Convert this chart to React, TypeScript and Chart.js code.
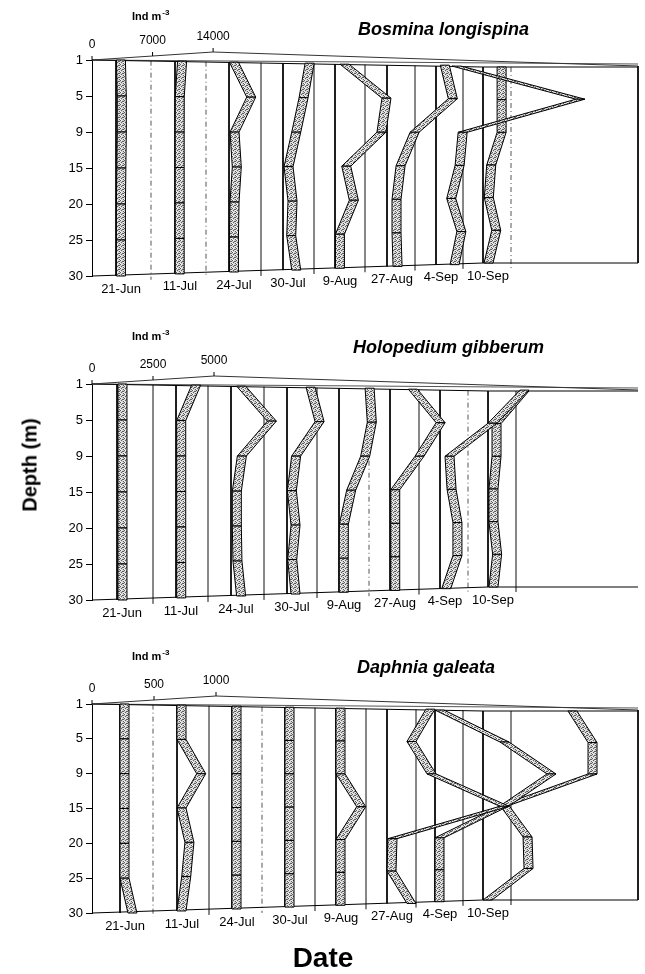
import React, { useEffect, useRef } from 'react';
import { Chart, registerables } from 'chart.js';

Chart.register(...registerables);

// ---------- data ----------
const DEPTHS = ['1', '5', '9', '15', '20', '25', '30'];
const DATES = ['21-Jun', '11-Jul', '24-Jul', '30-Jul', '9-Aug', '27-Aug', '4-Sep', '10-Sep'];

// Bosmina longispina (ind m^-3); one row per date, columns follow DEPTHS
const BOSMINA: number[][] = [
  [50, 150, 150, 100, 50, 50, 50],
  [300, 30, 20, 20, 20, 20, 20],
  [50, 2050, 120, 380, 120, 50, 50],
  [2560, 1860, 1010, 120, 580, 430, 1010],
  [580, 5430, 4850, 780, 1660, 50, 50],
  [6160, 7090, 2670, 1050, 580, 580, 700],
  [1860, 16170, 2560, 2210, 1240, 2410, 1630],
  [1630, 1630, 1630, 430, 150, 1010, 120],
];

// Holopedium gibberum (ind m^-3)
const HOLOPEDIUM: number[][] = [
  [40, 40, 40, 40, 40, 40, 40],
  [640, 30, 30, 30, 30, 30, 30],
  [230, 1490, 260, 55, 55, 80, 230],
  [780, 1150, 190, 15, 165, 30, 165],
  [1070, 1160, 890, 315, 15, 10, 10],
  [750, 1890, 1025, 30, 30, 30, 30],
  [3280, 1970, 205, 290, 530, 530, 70],
  [1310, 165, 165, 40, 40, 190, 40],
];

// Daphnia galeata (ind m^-3)
const DAPHNIA: number[][] = [
  [0, 0, 0, 0, 0, 0, 64],
  [0, 0, 159, 0, 64, 38, 0],
  [0, 0, 0, 0, 0, 0, 0],
  [0, 0, 0, 0, 0, 0, 0],
  [0, 0, 0, 167, 0, 0, 0],
  [314, 161, 323, 911, 8, 0, 161],
  [0, 524, 903, 524, 0, 0, 0],
  [685, 847, 847, 137, 323, 331, 0],
];

const BOSMINA_TICKS = [0, 7000, 14000];
const HOLOPEDIUM_TICKS = [0, 2500, 5000];
const DAPHNIA_TICKS = [0, 500, 1000];

// ---------- layout ----------
const FONT = "'Liberation Sans', Arial, Helvetica, sans-serif";
const W = 645;
const AXIS_X = 92;
const RIGHT_X = 638;
const RIBBON_W = 9;

type Panel = {
  title: string;
  values: number[][];
  ticks: number[];
  pxPerUnit: number;
  canvasTop: number;
  canvasH: number;
  top: number;
  bottom: number;
  baselines: number[];
  thin: number[];
  dashed: number[];
  titleX: number;
  titleDy: number;
  indDy: number;
  rightEdge: boolean;
};

const PANELS: Panel[] = [
  {
    title: 'Bosmina longispina', values: BOSMINA, ticks: BOSMINA_TICKS, pxPerUnit: 8.65 / 1000,
    canvasTop: 0, canvasH: 310, top: 60, bottom: 276,
    baselines: [116, 175, 229, 283, 335, 387, 436, 483],
    thin: [151, 206, 261, 314, 365, 415, 463, 511], dashed: [0, 1, 7],
    titleX: 358, titleDy: -30, indDy: -43, rightEdge: true,
  },
  {
    title: 'Holopedium gibberum', values: HOLOPEDIUM, ticks: HOLOPEDIUM_TICKS, pxPerUnit: 24.4 / 1000,
    canvasTop: 310, canvasH: 320, top: 384, bottom: 600,
    baselines: [117, 176, 231, 287, 339, 390, 440, 488],
    thin: [153, 208, 264, 317, 369, 419, 468, 516], dashed: [4, 6],
    titleX: 353, titleDy: -36, indDy: -47, rightEdge: false,
  },
  {
    title: 'Daphnia galeata', values: DAPHNIA, ticks: DAPHNIA_TICKS, pxPerUnit: 124 / 1000,
    canvasTop: 630, canvasH: 344, top: 704, bottom: 913,
    baselines: [120, 177, 232, 285, 336, 387, 435, 483],
    thin: [153, 209, 262, 315, 366, 416, 463, 511], dashed: [0, 2],
    titleX: 357, titleDy: -36, indDy: -47, rightEdge: true,
  },
];

function makeStipple(ctx: CanvasRenderingContext2D): CanvasPattern | string {
  const c = document.createElement('canvas');
  c.width = 4;
  c.height = 4;
  const g = c.getContext('2d');
  if (!g) return '#bbbbbb';
  g.fillStyle = '#d4d4d4';
  g.fillRect(0, 0, 4, 4);
  g.fillStyle = '#5c5c5c';
  g.fillRect(0, 0, 1, 1);
  g.fillRect(2, 1, 1, 1);
  g.fillRect(1, 2, 1, 1);
  g.fillRect(3, 3, 1, 1);
  g.fillRect(3, 1, 1, 1);
  g.fillStyle = '#f4f4f4';
  g.fillRect(1, 0, 1, 1);
  g.fillRect(3, 2, 1, 1);
  g.fillRect(0, 3, 1, 1);
  return ctx.createPattern(c, 'repeat') || '#bbbbbb';
}

function buildChart(canvas: HTMLCanvasElement, p: Panel, pi: number): Chart {
  const T = p.top - p.canvasTop;
  const B = p.bottom - p.canvasTop;
  const sp = (B - T) / 6;
  const n = p.baselines.length;
  const b0 = p.baselines[0];
  const b7 = p.baselines[n - 1];
  const f = (x: number) => Math.min(1, Math.max(0, (x - b0) / (b7 - b0)));
  const topAt = (x: number) => T + 7 * f(x);
  const botAt = (x: number) => B - 13 * f(x);
  const toIdx = (ypx: number) => (ypx - T) / sp;
  const toX = (xpx: number) => xpx - AXIS_X;
  const apexX = AXIS_X + p.ticks[p.ticks.length - 1] * p.pxPerUnit;
  const roofY = (x: number) => T - 8 * (x - AXIS_X) / (apexX - AXIS_X);

  const datasets: any[] = [];
  // ribbon datasets (drawn by plugin from the library's point positions)
  p.values.forEach((row, i) => {
    const bx = p.baselines[i];
    const t = topAt(bx);
    const b = botAt(bx);
    datasets.push({
      label: DATES[i],
      data: row.map((v, k) => ({ x: toX(bx) + v * p.pxPerUnit, y: toIdx(t + (k * (b - t)) / 6) })),
      showLine: false,
      pointRadius: 0,
      borderWidth: 0,
      order: i + 1,
      clip: false,
    });
  });
  const line = (pts: [number, number][], color: string, width: number, order: number, dash: number[] = []) => ({
    label: '',
    data: pts.map(([x, y]) => ({ x: toX(x), y: toIdx(y) })),
    showLine: true,
    borderColor: color,
    borderWidth: width,
    borderDash: dash,
    pointRadius: 0,
    fill: false,
    tension: 0,
    order,
    clip: false,
  });
  // date walls
  p.baselines.forEach((bx) => {
    datasets.push(line([[bx, topAt(bx)], [bx, botAt(bx)]], '#000', 1, 100));
  });
  p.thin.forEach((tx, i) => {
    const dash = p.dashed.includes(i) ? [5, 3, 1, 3] : [];
    datasets.push(line([[tx, topAt(tx)], [tx, botAt(tx) + 5]], dash.length ? '#555' : '#777', 1, 100, dash));
  });
  // roof and floor
  datasets.push(line([[AXIS_X, T], [apexX, T - 8], [RIGHT_X, T + 6]], '#333', 1, 90));
  datasets.push(line([[AXIS_X, T], [b7, T + 7], [RIGHT_X, T + 7]], '#000', 1, 90));
  datasets.push(line([[AXIS_X, T], [RIGHT_X, T + 4]], '#555', 1, 90));
  datasets.push(line([[AXIS_X, B], [b7, B - 13], [RIGHT_X, B - 13]], '#000', 1, 90));
  if (p.rightEdge) {
    datasets.push(line([[RIGHT_X, T + 6], [RIGHT_X, B - 13]], '#000', 1, 90));
  }

  const ctx0 = canvas.getContext('2d') as CanvasRenderingContext2D;
  const stipple = makeStipple(ctx0);
  const nRibbons = p.values.length;

  const ribbonPlugin = {
    id: 'ribbons' + pi,
    afterDatasetDraw(chart: any, args: any) {
      if (args.index >= nRibbons) return;
      const pts = args.meta.data;
      const ctx: CanvasRenderingContext2D = chart.ctx;
      ctx.save();
      ctx.fillStyle = stipple as any;
      ctx.strokeStyle = '#000';
      ctx.lineWidth = 1;
      ctx.lineJoin = 'miter';
      for (let j = 0; j < pts.length - 1; j++) {
        const a = pts[j];
        const b = pts[j + 1];
        ctx.beginPath();
        ctx.moveTo(a.x, a.y);
        ctx.lineTo(a.x + RIBBON_W, a.y);
        ctx.lineTo(b.x + RIBBON_W, b.y);
        ctx.lineTo(b.x, b.y);
        ctx.closePath();
        ctx.fill();
        ctx.stroke();
      }
      ctx.restore();
    },
  };

  const textPlugin = {
    id: 'texts' + pi,
    afterDraw(chart: any) {
      const ctx: CanvasRenderingContext2D = chart.ctx;
      const xs = chart.scales.x;
      ctx.save();
      ctx.fillStyle = '#000';
      ctx.strokeStyle = '#000';
      ctx.lineWidth = 1;
      // top value axis
      ctx.font = `12px ${FONT}`;
      ctx.textAlign = 'center';
      ctx.textBaseline = 'middle';
      p.ticks.forEach((v) => {
        const x = xs.getPixelForValue(v * p.pxPerUnit);
        const y = roofY(x);
        ctx.beginPath();
        ctx.moveTo(x, y);
        ctx.lineTo(x, y - 4);
        ctx.stroke();
        ctx.fillText(String(v), x, y - 15);
      });
      // Ind m^-3
      ctx.textAlign = 'left';
      ctx.font = `bold 11px ${FONT}`;
      const ix = 132;
      const iy = T + p.indDy;
      ctx.fillText('Ind m', ix, iy);
      const wI = ctx.measureText('Ind m').width;
      ctx.font = `bold 8px ${FONT}`;
      ctx.fillText('-3', ix + wI + 1, iy - 4);
      // title
      ctx.font = `italic bold 18px ${FONT}`;
      ctx.fillText(p.title, p.titleX, T + p.titleDy);
      // date labels
      ctx.font = `13px ${FONT}`;
      ctx.textAlign = 'center';
      p.baselines.forEach((bx, i) => {
        const x = xs.getPixelForValue(toX(bx)) + 5;
        ctx.fillText(DATES[i], x, botAt(bx) + 13);
      });
      ctx.restore();
    },
  };

  return new Chart(canvas, {
    type: 'line',
    data: { datasets },
    options: {
      animation: false,
      responsive: false,
      maintainAspectRatio: false,
      devicePixelRatio: 1,
      events: [],
      layout: { padding: { left: 0, right: W - RIGHT_X, top: T, bottom: p.canvasH - B } },
      plugins: { legend: { display: false }, tooltip: { enabled: false } },
      scales: {
        x: { type: 'linear', display: false, min: 0, max: RIGHT_X - AXIS_X },
        y: {
          type: 'linear',
          reverse: true,
          min: 0,
          max: 6,
          afterFit: (s: any) => {
            s.width = AXIS_X;
          },
          ticks: {
            stepSize: 1,
            autoSkip: false,
            padding: 3,
            color: '#000',
            font: { family: FONT, size: 13 },
            callback: (v: any) => DEPTHS[Math.round(Number(v))] ?? '',
          },
          grid: { drawOnChartArea: false, drawTicks: true, tickLength: 6, color: '#000' },
          border: { display: true, color: '#000', width: 1 },
        },
      },
    } as any,
    plugins: [ribbonPlugin, textPlugin] as any,
  });
}

export default function App() {
  const r1 = useRef<HTMLCanvasElement>(null);
  const r2 = useRef<HTMLCanvasElement>(null);
  const r3 = useRef<HTMLCanvasElement>(null);

  useEffect(() => {
    const refs = [r1, r2, r3];
    const charts: Chart[] = [];
    PANELS.forEach((p, i) => {
      const c = refs[i].current;
      if (c) charts.push(buildChart(c, p, i));
    });
    return () => charts.forEach((c) => c.destroy());
  }, []);

  return (
    <div style={{ position: 'absolute', left: 0, top: 0, width: W, height: 974, background: '#fff', overflow: 'hidden' }}>
      {PANELS.map((p, i) => (
        <canvas
          key={i}
          ref={[r1, r2, r3][i]}
          width={W}
          height={p.canvasH}
          style={{ position: 'absolute', left: 0, top: p.canvasTop, width: W, height: p.canvasH }}
        />
      ))}
      <div
        style={{
          position: 'absolute', left: 30, top: 465, transform: 'translate(-50%, -50%) rotate(-90deg)',
          font: `bold 20px ${FONT}`, whiteSpace: 'nowrap', color: '#000',
        }}
      >
        Depth (m)
      </div>
      <div
        style={{
          position: 'absolute', left: 323, top: 958, transform: 'translate(-50%, -50%)',
          font: `bold 28px ${FONT}`, whiteSpace: 'nowrap', color: '#000',
        }}
      >
        Date
      </div>
    </div>
  );
}
